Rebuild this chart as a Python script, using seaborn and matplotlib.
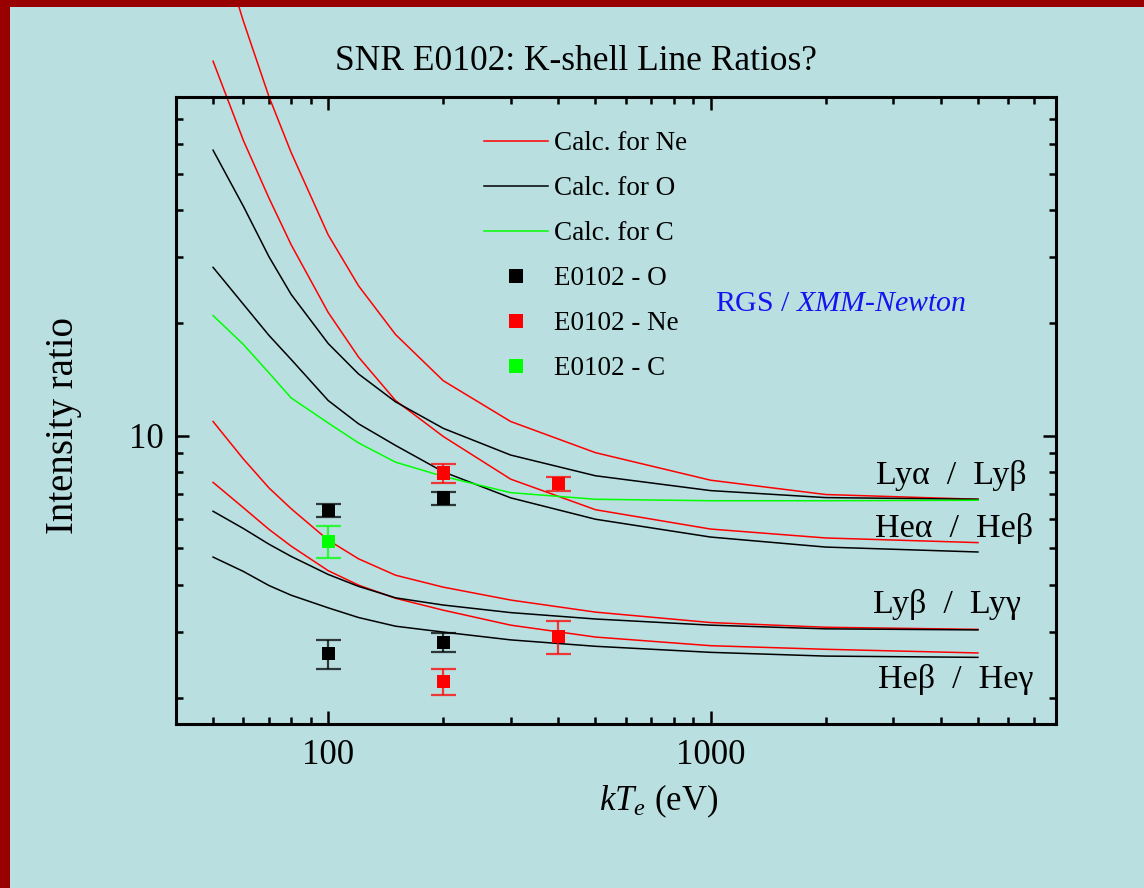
import numpy as np
import pandas as pd
import matplotlib
matplotlib.use("Agg")
import matplotlib.pyplot as plt
from matplotlib.ticker import LogLocator, FuncFormatter, NullFormatter
from matplotlib.lines import Line2D
from matplotlib.patches import Rectangle
import seaborn as sns

# ---------------- data ----------------
T = [50, 60, 70, 80, 100, 120, 150, 200, 300, 500, 1000, 2000, 5000]
ne_lya_lyb = [233, 127.5, 80.2, 56.9, 34.3, 25.1, 18.6, 14.0, 10.9, 9.0, 7.60, 6.96, 6.76]
ne_hea_heb = [99.7, 61.3, 43.0, 32.3, 21.3, 16.2, 12.4, 9.94, 7.65, 6.34, 5.63, 5.33, 5.18]
ne_lyb_lyg = [10.9, 8.66, 7.25, 6.38, 5.26, 4.69, 4.24, 3.94, 3.64, 3.38, 3.17, 3.08, 3.04]
ne_heb_heg = [7.50, 6.42, 5.62, 5.07, 4.36, 3.99, 3.68, 3.42, 3.12, 2.90, 2.75, 2.69, 2.63]
o_lya_lyb = [57.7, 40.9, 30.0, 23.8, 17.6, 14.6, 12.3, 10.45, 8.87, 7.81, 7.13, 6.83, 6.76]
o_hea_heb = [28.1, 22.4, 18.5, 15.96, 12.4, 10.75, 9.41, 8.00, 6.82, 5.98, 5.36, 5.04, 4.89]
o_lyb_lyg = [6.28, 5.65, 5.13, 4.76, 4.26, 3.96, 3.69, 3.53, 3.37, 3.24, 3.12, 3.05, 3.03]
o_heb_heg = [4.74, 4.34, 3.98, 3.75, 3.47, 3.27, 3.10, 2.99, 2.85, 2.74, 2.64, 2.58, 2.56]
c_lya_lyb = [20.9, 17.5, 14.7, 12.6, 10.8, 9.56, 8.49, 7.78, 7.04, 6.76, 6.70, 6.70, 6.72]

obs_o_T = [100, 200, 100, 200]
obs_o_val = [6.32, 6.81, 2.62, 2.81]
obs_o_err = [0.26, 0.28, 0.23, 0.17]
obs_ne_T = [200, 400, 200, 400]
obs_ne_val = [7.94, 7.44, 2.21, 2.91]
obs_ne_err = [0.47, 0.33, 0.18, 0.29]
obs_c_T = [100]
obs_c_val = [5.22]
obs_c_err = [0.50]

ratio_labels = ["Lyα\u2002/\u2002Lyβ", "Heα\u2002/\u2002Heβ",
                "Lyβ\u2002/\u2002Lyγ", "Heβ\u2002/\u2002Heγ"]
legend_labels = ["Calc. for Ne", "Calc. for O", "Calc. for C",
                 "E0102 - O", "E0102 - Ne", "E0102 - C"]

# ---------------- style ----------------
BG = "#B9DFE1"
RED = "#FF0000"
GREEN = "#00FF00"
BLACK = "#000000"
BLUE = "#1414F0"

plt.rcParams["font.family"] = ["Liberation Serif", "DejaVu Serif"]
plt.rcParams["mathtext.fontset"] = "custom"
plt.rcParams["mathtext.rm"] = "Liberation Serif"
plt.rcParams["mathtext.it"] = "Liberation Serif:italic"

W, H = 1144, 888
fig = plt.figure(figsize=(W / 100, H / 100), dpi=100)
fig.patch.set_facecolor(BG)
ax = fig.add_axes([176 / W, 1 - 724 / H, 880 / W, 627 / H])
ax.set_facecolor(BG)
ax.set_xscale("log")
ax.set_yscale("log")

curves = [
    (ne_lya_lyb, RED), (ne_hea_heb, RED), (ne_lyb_lyg, RED), (ne_heb_heg, RED),
    (o_lya_lyb, BLACK), (o_hea_heb, BLACK), (o_lyb_lyg, BLACK), (o_heb_heg, BLACK),
    (c_lya_lyb, GREEN),
]
for vals, col in curves:
    df = pd.DataFrame({"T": T, "ratio": vals})
    sns.lineplot(data=df, x="T", y="ratio", color=col, linewidth=1.1,
                 ax=ax, legend=False, estimator=None, sort=True)
    ax.lines[-1].set_clip_on(False)


def draw_obs(Ts, vals, errs, color):
    ax.errorbar(Ts, vals, yerr=errs, fmt="none", ecolor=color, elinewidth=1.6,
                capsize=9, capthick=1.6, alpha=0.75, zorder=3)
    sns.scatterplot(x=Ts, y=vals, marker="s", s=92, color=color,
                    edgecolor="none", linewidth=0, ax=ax, zorder=4, legend=False)


draw_obs(obs_o_T, obs_o_val, obs_o_err, BLACK)
draw_obs(obs_ne_T, obs_ne_val, obs_ne_err, RED)
draw_obs(obs_c_T, obs_c_val, obs_c_err, GREEN)

ax.set_xlim(40, 8000)
ax.set_ylim(1.7, 80)
ax.set_xlabel("")
ax.set_ylabel("")

for axis in (ax.xaxis, ax.yaxis):
    axis.set_major_locator(LogLocator(base=10, numticks=10))
    axis.set_minor_locator(LogLocator(base=10, subs=np.arange(2, 10), numticks=30))
    axis.set_major_formatter(FuncFormatter(lambda v, p: f"{v:g}"))
    axis.set_minor_formatter(NullFormatter())

ax.tick_params(which="both", direction="in", top=True, right=True, width=1.8,
               colors="black", labelsize=25)
ax.tick_params(which="major", length=9.4)
ax.tick_params(which="minor", length=5.3)
ax.tick_params(axis="x", pad=11)
ax.tick_params(axis="y", pad=9)
for sp in ax.spines.values():
    sp.set_linewidth(2.2)
    sp.set_color("black")

# ratio labels
label_pos = [(2711, 7.44), (2694, 5.36), (2657, 3.36), (2744, 2.12)]
for (lx, ly), txt in zip(label_pos, ratio_labels):
    ax.text(lx, ly, txt, fontsize=24.5, ha="left", va="baseline", color="black")

# legend
handles = [
    Line2D([], [], color=RED, lw=1.1),
    Line2D([], [], color=BLACK, lw=1.1),
    Line2D([], [], color=GREEN, lw=1.1),
    Line2D([], [], color=BLACK, marker="s", ls="none", markersize=9.6, markeredgewidth=0),
    Line2D([], [], color=RED, marker="s", ls="none", markersize=9.6, markeredgewidth=0),
    Line2D([], [], color=GREEN, marker="s", ls="none", markersize=9.6, markeredgewidth=0),
]
fig.legend(handles, legend_labels, loc="upper left",
           bbox_to_anchor=(484 / W, 1 - 131 / H), bbox_transform=fig.transFigure,
           frameon=False, fontsize=19.5, handlelength=2.36, handletextpad=0.22,
           labelspacing=0.74, borderpad=0, borderaxespad=0, numpoints=1)

# texts
fig.text(575.5 / W, 1 - 70 / H, "SNR E0102: K-shell Line Ratios?", ha="center",
         va="baseline", fontsize=25.5)
fig.text(659 / W, 1 - 810 / H, r"$kT_e$ (eV)", ha="center", va="baseline", fontsize=25)
fig.text(64 / W, 1 - 426 / H, "Intensity ratio", rotation=90, ha="center",
         va="center", fontsize=28)
fig.text(715 / W, 1 - 311 / H, r"RGS / $\mathit{XMM}$-$\mathit{Newton}$", ha="left",
         va="baseline", fontsize=21.5, color=BLUE)

# slide border
fig.add_artist(Rectangle((0, 0), 10 / W, 1, transform=fig.transFigure,
                         color="#990000", zorder=20, lw=0))
fig.add_artist(Rectangle((0, 1 - 7 / H), 1, 7 / H, transform=fig.transFigure,
                         color="#990000", zorder=20, lw=0))

fig.savefig("out.png", dpi=100, facecolor=BG)
